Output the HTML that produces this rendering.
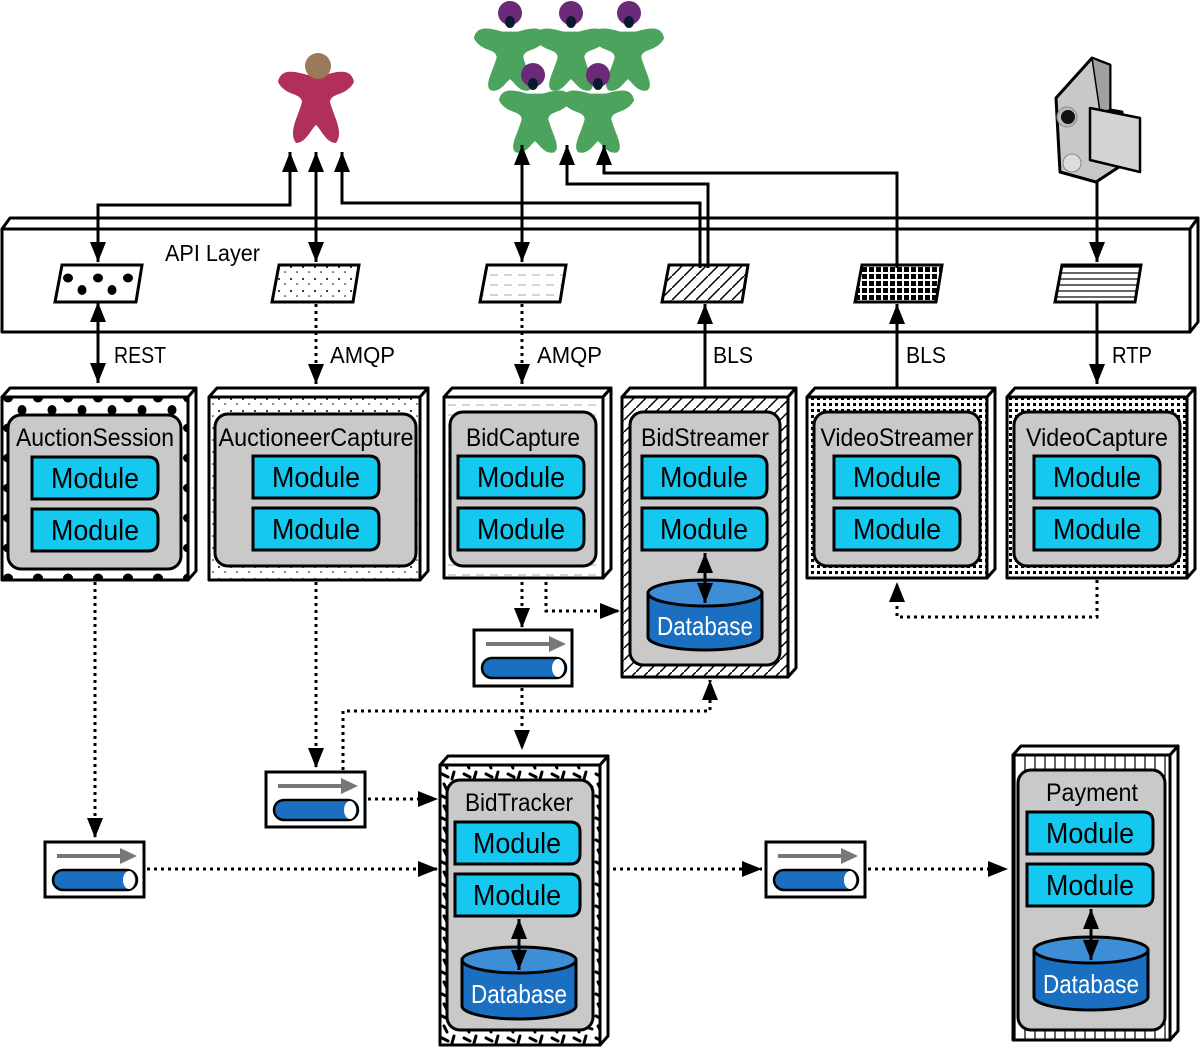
<!DOCTYPE html>
<html><head><meta charset="utf-8"><style>
html,body{margin:0;padding:0;background:#fff;width:1200px;height:1050px;overflow:hidden}
svg{display:block}
text{font-family:"Liberation Sans Narrow","Liberation Sans",sans-serif;}
</style></head><body>
<svg width="1200" height="1050" viewBox="0 0 1200 1050" xmlns="http://www.w3.org/2000/svg">
<defs>
<marker id="a" viewBox="0 0 10 10" refX="10" refY="5" markerWidth="20" markerHeight="20" markerUnits="userSpaceOnUse" orient="auto-start-reverse"><path d="M0,1 L10,5 L0,9 Z" fill="#000"/></marker>
<pattern id="pBlob" width="30" height="30" patternUnits="userSpaceOnUse"><rect width="30" height="30" fill="#fff"/><ellipse cx="8" cy="8" rx="5" ry="4.5" fill="#000"/><ellipse cx="22" cy="20" rx="4.5" ry="5" fill="#000"/></pattern>
<pattern id="pDot" width="12" height="12" patternUnits="userSpaceOnUse"><rect width="12" height="12" fill="#fff"/><circle cx="3" cy="3" r="1" fill="#000"/><circle cx="9" cy="8" r="0.8" fill="#000"/></pattern>
<pattern id="pDash" width="14" height="10" patternUnits="userSpaceOnUse"><rect width="14" height="10" fill="#fff"/><line x1="0" y1="5" x2="8" y2="5" stroke="#aaa" stroke-width="1"/></pattern>
<pattern id="pHatch" width="12" height="12" patternUnits="userSpaceOnUse"><rect width="12" height="12" fill="#fff"/><path d="M0,12 L12,0" stroke="#000" stroke-width="1.5"/></pattern>
<pattern id="pGrid" width="7" height="7" patternUnits="userSpaceOnUse"><rect width="7" height="7" fill="#fff"/><rect x="1" y="1" width="5" height="5" fill="#000"/></pattern>
<pattern id="pGridL" width="6" height="6" patternUnits="userSpaceOnUse"><rect width="6" height="6" fill="#fff"/><rect x="1" y="1" width="3" height="3" fill="#000"/></pattern>
<pattern id="pLines" width="10" height="6" patternUnits="userSpaceOnUse"><rect width="10" height="6" fill="#fff"/><line x1="0" y1="3" x2="10" y2="3" stroke="#000" stroke-width="1.2"/></pattern>
<pattern id="pScrib" width="22" height="22" patternUnits="userSpaceOnUse"><rect width="22" height="22" fill="#fff"/><path d="M2,4 l6,3 M14,2 l-2,7 M4,14 l3,6 M14,15 l6,2" stroke="#000" stroke-width="3" stroke-linecap="round"/></pattern>
<pattern id="pPay" width="10" height="10" patternUnits="userSpaceOnUse"><rect width="10" height="10" fill="#fff"/><path d="M5,0 V10" stroke="#000" stroke-width="1.2"/></pattern>
</defs>

<g fill="#b0305a">
<path transform="translate(316,67)" d="M-8,8 C-20,5 -35,0 -38,15 C-30,30 -15,25 -14,35 C-18,50 -28,65 -20,76 C-10,76 -5,62 0,58 C5,62 10,76 20,76 C28,65 18,50 14,35 C15,25 30,30 38,15 C35,0 20,5 8,8 Z"/>
</g>
<circle cx="318" cy="66" r="13" fill="#9a7a5a"/>
<g fill="#4ca35e">
<path transform="translate(510,24) scale(0.95)" d="M-8,8 C-20,5 -35,0 -38,15 C-30,30 -15,25 -14,35 C-18,50 -28,65 -20,70 C-10,72 -5,62 0,58 C5,62 10,72 20,70 C28,65 18,50 14,35 C15,25 30,30 38,15 C35,0 20,5 8,8 Z"/>
<path transform="translate(571,24) scale(0.95)" d="M-8,8 C-20,5 -35,0 -38,15 C-30,30 -15,25 -14,35 C-18,50 -28,65 -20,70 C-10,72 -5,62 0,58 C5,62 10,72 20,70 C28,65 18,50 14,35 C15,25 30,30 38,15 C35,0 20,5 8,8 Z"/>
<path transform="translate(628,24) scale(0.95)" d="M-8,8 C-20,5 -35,0 -38,15 C-30,30 -15,25 -14,35 C-18,50 -28,65 -20,70 C-10,72 -5,62 0,58 C5,62 10,72 20,70 C28,65 18,50 14,35 C15,25 30,30 38,15 C35,0 20,5 8,8 Z"/>
<path transform="translate(535,86) scale(0.95)" d="M-8,8 C-20,5 -35,0 -38,15 C-30,30 -15,25 -14,35 C-18,50 -28,65 -20,70 C-10,72 -5,62 0,58 C5,62 10,72 20,70 C28,65 18,50 14,35 C15,25 30,30 38,15 C35,0 20,5 8,8 Z"/>
<path transform="translate(598,86) scale(0.95)" d="M-8,8 C-20,5 -35,0 -38,15 C-30,30 -15,25 -14,35 C-18,50 -28,65 -20,70 C-10,72 -5,62 0,58 C5,62 10,72 20,70 C28,65 18,50 14,35 C15,25 30,30 38,15 C35,0 20,5 8,8 Z"/>
</g>
<g fill="#6a2a78">
<circle cx="510" cy="13" r="12"/><circle cx="533" cy="75" r="12"/>
<circle cx="571" cy="13" r="12"/><circle cx="598" cy="75" r="12"/>
<circle cx="629" cy="13" r="12"/>
</g>
<g fill="#0a1a30">
<ellipse cx="510" cy="22" rx="5" ry="6"/><ellipse cx="533" cy="84" rx="5" ry="6"/>
<ellipse cx="571" cy="22" rx="5" ry="6"/><ellipse cx="598" cy="84" rx="5" ry="6"/>
<ellipse cx="629" cy="22" rx="5" ry="6"/>
</g>
<!-- Camera -->
<g stroke="#000" stroke-width="3" stroke-linejoin="round">
<path d="M1056,98 L1092,58 L1110,65 L1110,110 L1122,112 L1122,165 L1096,182 L1060,172 Z" fill="#c8c8c8"/>
<path d="M1092,58 L1110,65 L1110,110 L1100,112 Z" fill="#a0a0a0" stroke-width="1.5"/>
<path d="M1090,108 L1140,118 L1140,172 L1090,160 Z" fill="#d4d4d4" stroke-width="2.5"/>
</g>
<circle cx="1067" cy="117" r="10" fill="#bbb" stroke="#888"/>
<circle cx="1068" cy="117" r="7" fill="#111"/>
<circle cx="1072" cy="163" r="9" fill="#ddd" stroke="#888" stroke-width="1"/>

<!-- API layer -->
<g stroke="#000" stroke-width="3" stroke-linejoin="round">
<polygon points="2,229 10,218 1198,218 1190,229" fill="#fff"/>
<polygon points="1190,229 1198,218 1198,322 1190,332" fill="#fff"/>
<rect x="2" y="229" width="1188" height="103" fill="#fff"/>
</g>
<text x="165" y="261" font-size="23" textLength="95" lengthAdjust="spacingAndGlyphs">API Layer</text>
<g stroke="#000" stroke-width="3">
<polygon points="62,265 142,265 136,302 55,302" fill="url(#pBlob)"/>
<polygon points="279,265 359,265 353,302 272,302" fill="url(#pDot)"/>
<polygon points="487,265 566,265 560,302 480,302" fill="url(#pDash)"/>
<polygon points="669,265 748,265 742,302 662,302" fill="url(#pHatch)"/>
<polygon points="862,265 942,265 936,302 855,302" fill="url(#pGrid)"/>
<polygon points="1062,265 1141,265 1135,302 1055,302" fill="url(#pLines)"/>
</g>

<g stroke="#000" stroke-width="3" fill="none">
<path d="M98,262 V205 H290 V152" marker-start="url(#a)" marker-end="url(#a)"/>
<path d="M316,262 V152" marker-start="url(#a)" marker-end="url(#a)"/>
<path d="M700,268 V203 H342 V152" marker-end="url(#a)"/>
<path d="M708,268 V184 H567 V145" marker-end="url(#a)"/>
<path d="M897,268 V173 H604 V145" marker-end="url(#a)"/>
<path d="M522,262 V145" marker-start="url(#a)" marker-end="url(#a)"/>
<path d="M1097,182 V262" marker-end="url(#a)"/>
<path d="M98,302 V383" marker-start="url(#a)" marker-end="url(#a)"/>
<path d="M705,388 V304" marker-end="url(#a)"/>
<path d="M897,388 V304" marker-end="url(#a)"/>
<path d="M1097,302 V384" marker-end="url(#a)"/>
</g>
<g stroke="#000" stroke-width="3" fill="none" stroke-dasharray="3,4">
<path d="M316,304 V384" marker-end="url(#a)"/>
<path d="M522,304 V384" marker-end="url(#a)"/>
</g>
<g font-size="23">
<text x="114" y="363" textLength="52" lengthAdjust="spacingAndGlyphs">REST</text>
<text x="330" y="363" textLength="65" lengthAdjust="spacingAndGlyphs">AMQP</text>
<text x="537" y="363" textLength="65" lengthAdjust="spacingAndGlyphs">AMQP</text>
<text x="713" y="363" textLength="40" lengthAdjust="spacingAndGlyphs">BLS</text>
<text x="906" y="363" textLength="40" lengthAdjust="spacingAndGlyphs">BLS</text>
<text x="1112" y="363" textLength="40" lengthAdjust="spacingAndGlyphs">RTP</text>
</g>

<g stroke="#000" stroke-width="3" fill="none" stroke-dasharray="3,4">
<path d="M95,582 V838" marker-end="url(#a)"/>
<path d="M147,869 H438" marker-end="url(#a)"/>
<path d="M316,582 V768" marker-end="url(#a)"/>
<path d="M368,799 H438" marker-end="url(#a)"/>
<path d="M343,770 V711 H710 V680" marker-end="url(#a)"/>
<path d="M522,582 V628" marker-end="url(#a)"/>
<path d="M546,582 V611 H620" marker-end="url(#a)"/>
<path d="M522,688 V750" marker-end="url(#a)"/>
<path d="M1097,580 V617 H897 V582" marker-end="url(#a)"/>
<path d="M606,869 H762" marker-end="url(#a)"/>
<path d="M868,869 H1008" marker-end="url(#a)"/>
</g>

<g stroke="#000" stroke-width="3" stroke-linejoin="round">
<polygon points="2,397 10,388 196,388 188,397" fill="#fff"/><polygon points="188,397 196,388 196,571 188,580" fill="#fff"/>
<rect x="2" y="397" width="186" height="183" fill="url(#pBlob)"/>
<polygon points="209,397 217,388 428,388 420,397" fill="#fff"/><polygon points="420,397 428,388 428,571 420,580" fill="#fff"/>
<rect x="209" y="397" width="211" height="183" fill="url(#pDot)"/>
<polygon points="444,397 452,388 611,388 603,397" fill="#fff"/><polygon points="603,397 611,388 611,569 603,578" fill="#fff"/>
<rect x="444" y="397" width="159" height="181" fill="url(#pDash)"/>
<polygon points="622,397 630,388 796,388 788,397" fill="#fff"/><polygon points="788,397 796,388 796,668 788,677" fill="#fff"/>
<rect x="622" y="397" width="166" height="280" fill="url(#pHatch)"/>
<polygon points="807,397 815,388 995,388 987,397" fill="#fff"/><polygon points="987,397 995,388 995,569 987,578" fill="#fff"/>
<rect x="807" y="397" width="180" height="181" fill="url(#pGridL)"/>
<polygon points="1007,397 1015,388 1195,388 1187,397" fill="#fff"/><polygon points="1187,397 1195,388 1195,569 1187,578" fill="#fff"/>
<rect x="1007" y="397" width="180" height="181" fill="url(#pGridL)"/>
<polygon points="440,765 448,756 608,756 600,765" fill="#fff"/><polygon points="600,765 608,756 608,1036 600,1045" fill="#fff"/>
<rect x="440" y="765" width="160" height="280" fill="url(#pScrib)"/>
<polygon points="1013,755 1021,746 1178,746 1170,755" fill="#fff"/><polygon points="1170,755 1178,746 1178,1031 1170,1040" fill="#fff"/>
<rect x="1013" y="755" width="157" height="285" fill="url(#pPay)"/>
</g>
<g fill="#c9c9c9" stroke="#000" stroke-width="3">
<rect x="8" y="415" width="173" height="154" rx="13"/>
<rect x="215" y="414" width="201" height="152" rx="13"/>
<rect x="450" y="412" width="146" height="154" rx="13"/>
<rect x="630" y="412" width="150" height="253" rx="13"/>
<rect x="814" y="412" width="166" height="154" rx="13"/>
<rect x="1014" y="412" width="166" height="154" rx="13"/>
<rect x="447" y="780" width="146" height="250" rx="13"/>
<rect x="1018" y="770" width="147" height="260" rx="13"/>
</g>
<g font-size="25" text-anchor="middle">
<text x="95" y="446" textLength="158" lengthAdjust="spacingAndGlyphs">AuctionSession</text>
<text x="316" y="446" textLength="195" lengthAdjust="spacingAndGlyphs">AuctioneerCapture</text>
<text x="523" y="446" textLength="114" lengthAdjust="spacingAndGlyphs">BidCapture</text>
<text x="705" y="446" textLength="128" lengthAdjust="spacingAndGlyphs">BidStreamer</text>
<text x="897" y="446" textLength="153" lengthAdjust="spacingAndGlyphs">VideoStreamer</text>
<text x="1097" y="446" textLength="142" lengthAdjust="spacingAndGlyphs">VideoCapture</text>
<text x="519" y="811" textLength="108" lengthAdjust="spacingAndGlyphs">BidTracker</text>
<text x="1092" y="801" textLength="92" lengthAdjust="spacingAndGlyphs">Payment</text>
</g>
<g fill="#14c8f0" stroke="#000" stroke-width="3">
<path d="M32,457 H148 Q158,457 158,467 V489 Q158,499 148,499 H32 Z"/>
<path d="M32,509 H148 Q158,509 158,519 V541 Q158,551 148,551 H32 Z"/>
<path d="M253,456 H369 Q379,456 379,466 V488 Q379,498 369,498 H253 Z"/>
<path d="M253,508 H369 Q379,508 379,518 V540 Q379,550 369,550 H253 Z"/>
<path d="M458,456 H574 Q584,456 584,466 V488 Q584,498 574,498 H458 Z"/>
<path d="M458,508 H574 Q584,508 584,518 V540 Q584,550 574,550 H458 Z"/>
<path d="M642,456 H757 Q767,456 767,466 V488 Q767,498 757,498 H642 Z"/>
<path d="M642,508 H757 Q767,508 767,518 V540 Q767,550 757,550 H642 Z"/>
<path d="M834,456 H950 Q960,456 960,466 V488 Q960,498 950,498 H834 Z"/>
<path d="M834,508 H950 Q960,508 960,518 V540 Q960,550 950,550 H834 Z"/>
<path d="M1034,456 H1150 Q1160,456 1160,466 V488 Q1160,498 1150,498 H1034 Z"/>
<path d="M1034,508 H1150 Q1160,508 1160,518 V540 Q1160,550 1150,550 H1034 Z"/>
<path d="M455,822 H570 Q580,822 580,832 V854 Q580,864 570,864 H455 Z"/>
<path d="M455,874 H570 Q580,874 580,884 V906 Q580,916 570,916 H455 Z"/>
<path d="M1027,812 H1143 Q1153,812 1153,822 V844 Q1153,854 1143,854 H1027 Z"/>
<path d="M1027,864 H1143 Q1153,864 1153,874 V896 Q1153,906 1143,906 H1027 Z"/>
</g>
<g font-size="29" text-anchor="middle" fill="#000">
<text x="95" y="488" textLength="88" lengthAdjust="spacingAndGlyphs">Module</text>
<text x="95" y="540" textLength="88" lengthAdjust="spacingAndGlyphs">Module</text>
<text x="316" y="487" textLength="88" lengthAdjust="spacingAndGlyphs">Module</text>
<text x="316" y="539" textLength="88" lengthAdjust="spacingAndGlyphs">Module</text>
<text x="521" y="487" textLength="88" lengthAdjust="spacingAndGlyphs">Module</text>
<text x="521" y="539" textLength="88" lengthAdjust="spacingAndGlyphs">Module</text>
<text x="704" y="487" textLength="88" lengthAdjust="spacingAndGlyphs">Module</text>
<text x="704" y="539" textLength="88" lengthAdjust="spacingAndGlyphs">Module</text>
<text x="897" y="487" textLength="88" lengthAdjust="spacingAndGlyphs">Module</text>
<text x="897" y="539" textLength="88" lengthAdjust="spacingAndGlyphs">Module</text>
<text x="1097" y="487" textLength="88" lengthAdjust="spacingAndGlyphs">Module</text>
<text x="1097" y="539" textLength="88" lengthAdjust="spacingAndGlyphs">Module</text>
<text x="517" y="853" textLength="88" lengthAdjust="spacingAndGlyphs">Module</text>
<text x="517" y="905" textLength="88" lengthAdjust="spacingAndGlyphs">Module</text>
<text x="1090" y="843" textLength="88" lengthAdjust="spacingAndGlyphs">Module</text>
<text x="1090" y="895" textLength="88" lengthAdjust="spacingAndGlyphs">Module</text>
</g>
<g stroke="#000" stroke-width="3">
<path d="M648,593 V637 A57,13 0 0 0 762,637 V593 Z" fill="#1a6fc0"/>
<ellipse cx="705" cy="593" rx="57" ry="13" fill="#3d8ed6"/>
<path d="M462,960 V1006 A57,13 0 0 0 576,1006 V960 Z" fill="#1a6fc0"/>
<ellipse cx="519" cy="960" rx="57" ry="13" fill="#3d8ed6"/>
<path d="M1034,950 V997 A57,13 0 0 0 1148,997 V950 Z" fill="#1a6fc0"/>
<ellipse cx="1091" cy="950" rx="57" ry="13" fill="#3d8ed6"/>
</g>
<g font-size="26" text-anchor="middle" fill="#fff">
<text x="705" y="635" textLength="96" lengthAdjust="spacingAndGlyphs">Database</text>
<text x="519" y="1003" textLength="96" lengthAdjust="spacingAndGlyphs">Database</text>
<text x="1091" y="993" textLength="96" lengthAdjust="spacingAndGlyphs">Database</text>
</g>
<g stroke="#000" stroke-width="3" fill="none">
<path d="M705,553 V603" marker-start="url(#a)" marker-end="url(#a)"/>
<path d="M519,919 V970" marker-start="url(#a)" marker-end="url(#a)"/>
<path d="M1091,909 V960" marker-start="url(#a)" marker-end="url(#a)"/>
</g>

<g>
<g transform="translate(474,630)">
<rect x="0" y="0" width="98" height="56" fill="#fff" stroke="#000" stroke-width="3"/>
<line x1="12" y1="14" x2="78" y2="14" stroke="#777" stroke-width="4"/><polygon points="75,6 92,14 75,22" fill="#777"/>
<rect x="8" y="28" width="84" height="20" rx="10" fill="#1a6fc0" stroke="#000" stroke-width="2.5"/>
<ellipse cx="84" cy="38" rx="6" ry="9" fill="#fff"/>
</g>
<g transform="translate(266,772)">
<rect x="0" y="0" width="99" height="55" fill="#fff" stroke="#000" stroke-width="3"/>
<line x1="12" y1="14" x2="78" y2="14" stroke="#777" stroke-width="4"/><polygon points="75,6 92,14 75,22" fill="#777"/>
<rect x="8" y="28" width="84" height="20" rx="10" fill="#1a6fc0" stroke="#000" stroke-width="2.5"/>
<ellipse cx="84" cy="38" rx="6" ry="9" fill="#fff"/>
</g>
<g transform="translate(45,842)">
<rect x="0" y="0" width="99" height="55" fill="#fff" stroke="#000" stroke-width="3"/>
<line x1="12" y1="14" x2="78" y2="14" stroke="#777" stroke-width="4"/><polygon points="75,6 92,14 75,22" fill="#777"/>
<rect x="8" y="28" width="84" height="20" rx="10" fill="#1a6fc0" stroke="#000" stroke-width="2.5"/>
<ellipse cx="84" cy="38" rx="6" ry="9" fill="#fff"/>
</g>
<g transform="translate(766,842)">
<rect x="0" y="0" width="99" height="55" fill="#fff" stroke="#000" stroke-width="3"/>
<line x1="12" y1="14" x2="78" y2="14" stroke="#777" stroke-width="4"/><polygon points="75,6 92,14 75,22" fill="#777"/>
<rect x="8" y="28" width="84" height="20" rx="10" fill="#1a6fc0" stroke="#000" stroke-width="2.5"/>
<ellipse cx="84" cy="38" rx="6" ry="9" fill="#fff"/>
</g>
</g>
</svg>
</body></html>
